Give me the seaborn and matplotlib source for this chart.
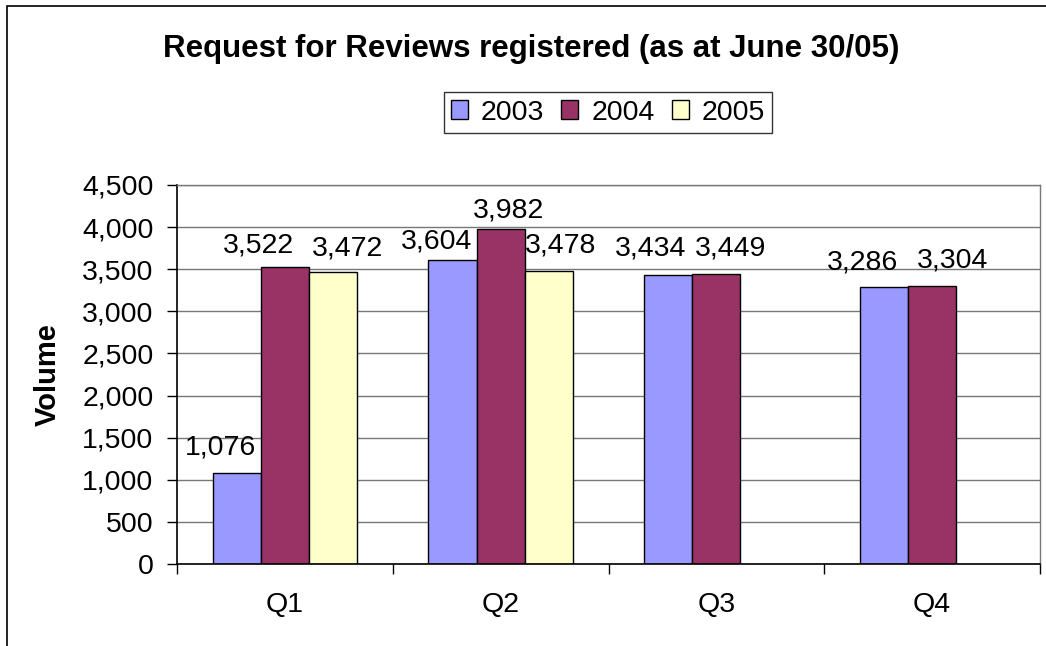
import matplotlib
matplotlib.use("Agg")
import matplotlib.pyplot as plt
import matplotlib.ticker as mticker
from matplotlib.patches import Rectangle
import numpy as np
import pandas as pd
import seaborn as sns

# data
quarters = ["Q1", "Q2", "Q3", "Q4"]
years = ["2003", "2004", "2005"]
vol_2003 = [1076, 3604, 3434, 3286]
vol_2004 = [3522, 3982, 3449, 3304]
vol_2005 = [3472, 3478, np.nan, np.nan]

colors = ["#9999FF", "#993366", "#FFFFCC"]

# pixel nudges for the value labels (Excel pushed them apart)
label_nudge = {
    ("Q1", "2003"): (-16, 19), ("Q1", "2004"): (-26, 15), ("Q1", "2005"): (14, 16),
    ("Q2", "2003"): (-16, 12), ("Q2", "2004"): (8, 11), ("Q2", "2005"): (12, 19),
    ("Q3", "2003"): (-18, 19), ("Q3", "2004"): (14, 18),
    ("Q4", "2003"): (-21, 18), ("Q4", "2004"): (20, 18),
}

df = pd.DataFrame({
    "quarter": quarters * 3,
    "year": [y for y in years for _ in quarters],
    "volume": vol_2003 + vol_2004 + vol_2005,
})

sns.set_style("white")
plt.rcParams["font.family"] = ["Liberation Sans", "DejaVu Sans"]
plt.rcParams["text.color"] = "black"
plt.rcParams["axes.labelcolor"] = "black"
plt.rcParams["xtick.color"] = "black"
plt.rcParams["ytick.color"] = "black"

FS = 20.5
W, H = 1046, 646
fig = plt.figure(figsize=(W / 100, H / 100), dpi=100)
ax = fig.add_axes([177 / W, 1 - 564 / H, (1040 - 177) / W, (564 - 185) / H])

sns.barplot(data=df, x="quarter", y="volume", hue="year", order=quarters,
            hue_order=years, palette=colors, width=0.67, edgecolor="black",
            linewidth=1, saturation=1, ax=ax)

ax.set_ylim(0, 4500)
ax.set_xlim(-0.5, 3.5)
ax.yaxis.set_major_locator(mticker.MultipleLocator(500))
ax.yaxis.set_major_formatter(mticker.StrMethodFormatter("{x:,.0f}"))
ax.grid(axis="y", color="#777777", linewidth=1)
ax.set_axisbelow(True)

ax.set_xlabel("")
ax.set_ylabel("Volume", fontsize=21, fontweight="bold")
ax.yaxis.set_label_coords(-0.133, 0.5)

ax.tick_params(axis="y", labelsize=FS, length=7, width=1, color="black",
               direction="out", left=True, pad=10)
ax.tick_params(axis="x", which="major", labelsize=FS, length=0, pad=20)
ax.set_xticks([-0.5, 0.5, 1.5, 2.5, 3.5], minor=True)
ax.tick_params(axis="x", which="minor", length=7, width=1, color="black",
               direction="out", bottom=True)

for side in ["left", "bottom"]:
    ax.spines[side].set_color("black")
    ax.spines[side].set_linewidth(1.2)
for side in ["top", "right"]:
    ax.spines[side].set_color("#777777")
    ax.spines[side].set_linewidth(1)

# value labels
for year, cont in zip(years, ax.containers):
    for bar in cont:
        h = bar.get_height()
        if np.isnan(h):
            continue
        xc = bar.get_x() + bar.get_width() / 2
        q = quarters[int(round(xc))]
        dx, dy = label_nudge.get((q, year), (0, 18))
        ax.annotate(f"{h:,.0f}", (xc, h), xytext=(dx * 0.72, dy * 0.72),
                    textcoords="offset points", ha="center", va="baseline",
                    fontsize=FS)

# legend
leg = ax.legend(loc="center", bbox_to_anchor=(608 / W, 1 - 112.5 / H),
                bbox_transform=fig.transFigure, ncol=3, fontsize=FS,
                frameon=True, fancybox=False, shadow=False,
                handlelength=0.6, handleheight=0.6, handletextpad=0.45,
                columnspacing=0.6, borderpad=0.25, borderaxespad=0)
leg.get_frame().set_edgecolor("black")
leg.get_frame().set_linewidth(1)
for p in leg.get_patches():
    p.set_edgecolor("black")
    p.set_linewidth(1)

fig.text(531 / W, 1 - 57 / H, "Request for Reviews registered (as at June 30/05)",
         ha="center", va="baseline", fontsize=22.5, fontweight="bold")

# chart area border (only left and top are inside the image)
fig.add_artist(Rectangle((7 / W, -0.5), 2, 0.5 + (1 - 6.5 / H), transform=fig.transFigure,
                         fill=False, edgecolor="black", linewidth=1.2))

fig.savefig("out.png", dpi=100)
